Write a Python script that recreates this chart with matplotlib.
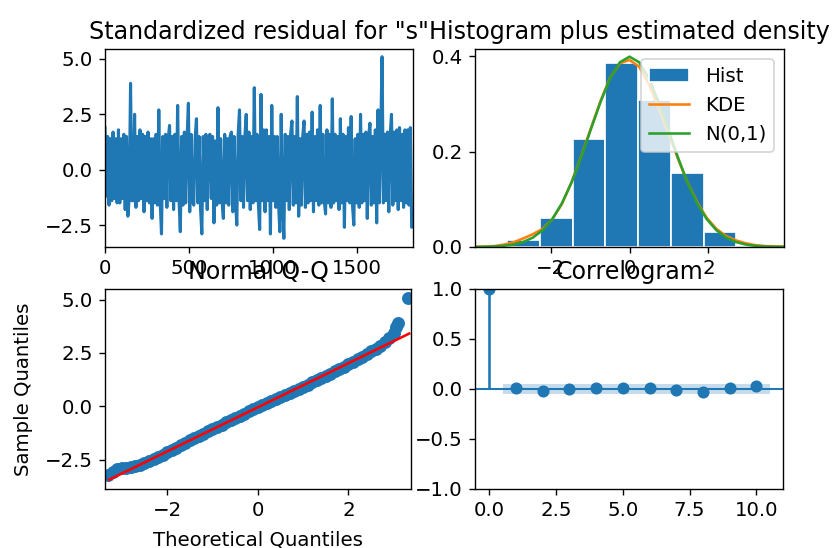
import numpy as np
import matplotlib
matplotlib.use("Agg")
import matplotlib.pyplot as plt

# standardized residuals (read every 8th observation from the chart)
resid_step = 8
resid = [
    1.9, -1.2, 1.5, -1.6, 1.4, -1.4, 1.7, -1.3, 1.4, -1.5,
    1.8, -1.5, 1.4, -1.3, 1.6, -1.8, 1.5, -2.1, -1.3, 3.9,
    -1.4, -1.4, 2.5, -1.7, 1.5, -1.4, 1.8, -1.3, 1.6, -1.9,
    1.5, -1.4, 1.7, -1.5, 1.4, -2.2, 1.4, -1.5, 1.6, -1.6,
    2.7, -1.4, -2.9, 1.5, -1.3, 1.6, -1.7, 1.4, 2.0, -1.4,
    1.5, -1.8, 1.6, -1.4, 2.9, -1.3, -2.8, 1.5, -1.6, 1.7,
    -1.5, 1.4, 3.0, -1.9, 1.6, -1.4, -1.6, 1.4, 2.3, -1.5,
    1.5, -1.7, -2.9, 1.5, -1.4, 1.6, -1.8, 1.4, 1.6, -1.3,
    1.5, -2.4, 1.3, -1.6, 2.8, -1.5, 1.4, -1.4, -2.2, 1.6,
    -1.5, 1.4, -1.6, 1.5, 1.7, -1.9, 1.5, -1.4, -2.5, 1.6,
    2.7, -1.4, 1.5, -1.7, 1.5, 2.5, -1.4, 1.7, -1.8, 1.5,
    -1.5, 3.7, -1.4, 1.6, -1.5, -2.7, 3.4, -1.4, 1.8, -1.9,
    1.8, -1.4, 1.5, -2.9, 2.9, -1.4, 1.5, -1.7, 1.5, -1.5,
    -2.8, 2.5, -1.6, -3.1, 1.6, -1.4, 1.5, -1.8, 1.6, 2.2,
    -1.6, 1.5, -1.5, 3.3, -2.1, 1.4, -1.6, 1.5, 2.2, -1.7,
    1.6, -1.5, 1.7, -1.4, 2.6, -1.9, 1.5, -1.4, 1.8, -1.6,
    2.9, -1.5, 1.6, -1.4, -2.0, 1.8, -1.5, 1.6, -1.7, 3.2,
    -1.5, 1.6, -1.4, 1.5, -1.8, 2.3, -1.5, 1.6, -2.6, 1.5,
    -1.4, 1.9, -1.5, 2.4, -1.6, -2.5, 1.4, -1.5, 1.6, -1.7,
    2.5, -1.5, 1.6, -1.4, 1.7, -2.2, 1.5, 2.1, -1.6, 1.5,
    -1.5, 1.8, -2.4, 2.7, -1.5, 1.6, 5.1, -1.5, 1.6, -1.4,
    1.7, -1.9, 1.5, 2.5, -1.6, 1.7, -1.4, 1.8, -1.8, 1.9,
    -1.4, 1.6, -1.7, 1.8, -1.5, 1.8, -1.6, 1.9, -2.6, -2.5,
]

# histogram
hist_edges = [-3.10, -2.27, -1.44, -0.61, 0.22, 1.05, 1.88, 2.71, 3.54]
hist_heights = [0.014, 0.060, 0.226, 0.385, 0.308, 0.156, 0.032, 0.002]

# density curves
dens_x = [-3.92, -3.675, -3.43, -3.185, -2.94, -2.695, -2.45, -2.205, -1.96,
          -1.715, -1.47, -1.225, -0.98, -0.735, -0.49, -0.245, 0.0, 0.245,
          0.49, 0.735, 0.98, 1.225, 1.47, 1.715, 1.96, 2.205, 2.45, 2.695,
          2.94, 3.185, 3.43, 3.675, 3.92]
kde_y = [0.0005, 0.001, 0.002, 0.005, 0.010, 0.018, 0.027, 0.038, 0.058,
         0.090, 0.136, 0.190, 0.249, 0.306, 0.355, 0.385, 0.392, 0.378,
         0.342, 0.293, 0.240, 0.186, 0.136, 0.094, 0.061, 0.038, 0.023,
         0.014, 0.008, 0.004, 0.002, 0.0015, 0.001]
norm_y = [0.0002, 0.0005, 0.0011, 0.0025, 0.0053, 0.0106, 0.0198, 0.0352,
          0.0584, 0.0916, 0.1354, 0.1885, 0.2468, 0.3040, 0.3538, 0.3872,
          0.3989, 0.3872, 0.3538, 0.3040, 0.2468, 0.1885, 0.1354, 0.0916,
          0.0584, 0.0352, 0.0198, 0.0106, 0.0053, 0.0025, 0.0011, 0.0005,
          0.0002]

# normal Q-Q
qq_theo = [-3.3, -3.2, -3.1, -3.0, -2.9, -2.8, -2.7, -2.6, -2.5, -2.4, -2.3,
           -2.2, -2.1, -2.0, -1.9, -1.8, -1.7, -1.6, -1.5, -1.4, -1.3, -1.2,
           -1.1, -1.0, -0.9, -0.8, -0.7, -0.6, -0.5, -0.4, -0.3, -0.2, -0.1,
           0.0, 0.1, 0.2, 0.3, 0.4, 0.5, 0.6, 0.7, 0.8, 0.9, 1.0, 1.1, 1.2,
           1.3, 1.4, 1.5, 1.6, 1.7, 1.8, 1.9, 2.0, 2.1, 2.2, 2.3, 2.4, 2.5,
           2.6, 2.7, 2.8, 2.9, 3.0, 3.05, 3.1, 3.32]
qq_sample = [-3.20, -3.10, -2.95, -2.90, -2.88, -2.84, -2.80, -2.74, -2.66,
             -2.57, -2.47, -2.37, -2.26, -2.15, -2.04, -1.93, -1.82, -1.71,
             -1.60, -1.49, -1.38, -1.28, -1.17, -1.07, -0.96, -0.86, -0.75,
             -0.65, -0.54, -0.44, -0.34, -0.24, -0.14, -0.04, 0.06, 0.15,
             0.25, 0.34, 0.44, 0.53, 0.63, 0.72, 0.82, 0.92, 1.02, 1.12,
             1.22, 1.32, 1.43, 1.53, 1.64, 1.75, 1.86, 1.97, 2.09, 2.21,
             2.33, 2.45, 2.58, 2.71, 2.85, 3.00, 3.18, 3.45, 3.70, 3.92, 5.08]
qq_line_x = [-3.28, 3.34]
qq_line_y = [-3.44, 3.41]

# correlogram
acf_lags = [0, 1, 2, 3, 4, 5, 6, 7, 8, 9, 10]
acf_vals = [1.0, 0.010, -0.017, 0.0, 0.010, 0.007, 0.007, -0.007, -0.026, 0.007, 0.026]
conf_lags = [0.5, 1, 2, 3, 4, 5, 6, 7, 8, 9, 10, 10.5]
conf_half = 0.046

plt.rcParams["font.size"] = 11.5
plt.rcParams["path.simplify"] = False  # keep every zigzag of the residual line

W, H, DPI = 838, 548, 124
fig = plt.figure(figsize=(W / DPI, H / DPI), dpi=DPI)


def add_ax(x0, y0, x1, y1):
    return fig.add_axes([x0 / W, 1 - y1 / H, (x1 - x0) / W, (y1 - y0) / H])


ax1 = add_ax(105, 49, 413, 247)
ax2 = add_ax(475, 49, 784, 247)
ax3 = add_ax(105, 289, 411, 489)
ax4 = add_ax(475, 289, 783, 489)

# standardized residual
x_res = np.arange(len(resid)) * resid_step
ax1.plot(x_res, resid, color="C0", lw=1.8)
ax1.set_xlim(0, x_res[-1])
ax1.set_ylim(-3.49, 5.45)
ax1.set_xticks([0, 500, 1000, 1500])
ax1.set_yticks([-2.5, 0.0, 2.5, 5.0])
ax1.set_title('Standardized residual for "s"')

# histogram + density
bars = ax2.bar(hist_edges[:-1], hist_heights, width=np.diff(hist_edges), align="edge",
               color="C0", edgecolor="#FFFFFF", label="Hist")
kde_line, = ax2.plot(dens_x, kde_y, color="C1", label="KDE")
norm_line, = ax2.plot(dens_x, norm_y, color="C2", label="N(0,1)")
ax2.set_xlim(-3.92, 3.92)
ax2.set_ylim(0, 0.415)
ax2.set_xticks([-2, 0, 2])
ax2.set_yticks([0.0, 0.2, 0.4])
ax2.legend([bars, kde_line, norm_line], ["Hist", "KDE", "N(0,1)"], loc="upper right")
ax2.set_title("Histogram plus estimated density")

# normal Q-Q
ax3.plot(qq_theo, qq_sample, "o", color="C0", markersize=6.5)
ax3.plot(qq_line_x, qq_line_y, color="r")
ax3.set_xlim(-3.37, 3.38)
ax3.set_ylim(-3.875, 5.5)
ax3.set_xticks([-2, 0, 2])
ax3.set_yticks([-2.5, 0.0, 2.5, 5.0])
ax3.set_xlabel("Theoretical Quantiles", labelpad=6)
ax3.set_ylabel("Sample Quantiles", labelpad=7)
ax3.set_title("Normal Q-Q")

# correlogram
ax4.vlines(acf_lags, [0], acf_vals, color="C0")
ax4.plot(acf_lags, acf_vals, "o", color="C0", markersize=6)
ax4.axhline(0, color="C0", lw=1.2)
ax4.fill_between(conf_lags, -conf_half, conf_half, color="C0", alpha=0.25, lw=0)
ax4.set_xlim(-0.54, 11.0)
ax4.set_ylim(-1, 1)
ax4.set_xticks([0.0, 2.5, 5.0, 7.5, 10.0])
ax4.set_yticks([-1.0, -0.5, 0.0, 0.5, 1.0])
ax4.set_title("Correlogram")

fig.savefig("out.png", dpi=DPI)
